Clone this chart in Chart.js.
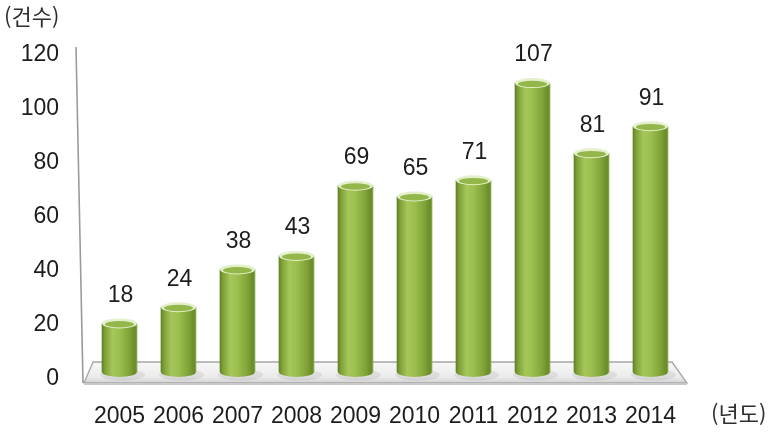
<!DOCTYPE html>
<html lang="ko">
<head>
<meta charset="utf-8">
<title>연도별 건수</title>
<script src="https://cdn.jsdelivr.net/npm/chart.js@4.4.0/dist/chart.umd.min.js"></script>
<style>
    html, body { margin: 0; padding: 0; background: #fff; }
    #wrap { width: 780px; height: 437px; }
</style>
</head>
<body>
<div id="wrap"><canvas id="chartYears" width="780" height="437"></canvas></div>
<script>
// ---------------------------------------------------------------------------
// Données
// ---------------------------------------------------------------------------
const years = ['2005', '2006', '2007', '2008', '2009', '2010', '2011', '2012', '2013', '2014'];
const counts = [18, 24, 38, 43, 69, 65, 71, 107, 81, 91];
const yTicks = [0, 20, 40, 60, 80, 100, 120];
const yUnit = '(건수)';
const xUnit = '(년도)';

const NUM_FONT = '"Liberation Sans", Arial, sans-serif';
const KO_FONT = '"Noto Sans CJK KR", "Noto Sans", sans-serif';
const BAR_W = 35;

// gradient horizontal du cylindre, calé sur la position de la barre
function bodyGradient(ctx, x, w) {
    const g = ctx.createLinearGradient(x - w / 2, 0, x + w / 2, 0);
    g.addColorStop(0, '#5f8224');
    g.addColorStop(0.08, '#7d9f36');
    g.addColorStop(0.3, '#a5c75a');
    g.addColorStop(0.5, '#9cbf50');
    g.addColorStop(0.8, '#7fa136');
    g.addColorStop(0.95, '#688a29');
    g.addColorStop(1, '#8aa94a');
    return g;
}

// ---------------------------------------------------------------------------
// Plugin : sol 3D, ombres, sommets des cylindres, étiquettes
// ---------------------------------------------------------------------------
const cylinderPlugin = {
    id: 'cylinders',
    beforeDatasetsDraw(chart) {
        const { ctx, chartArea } = chart;
        const base = chart.scales.y.getPixelForValue(0);
        const backY = base - 10, frontY = base + 11;

        ctx.save();
        // mur gauche
        ctx.strokeStyle = '#9a9a9a';
        ctx.lineWidth = 1.6;
        ctx.beginPath();
        ctx.moveTo(chartArea.left - 14, chartArea.top - 1);
        ctx.lineTo(chartArea.left - 7, frontY);
        ctx.stroke();

        // plancher
        ctx.beginPath();
        ctx.moveTo(chartArea.left + 3, backY);
        ctx.lineTo(chartArea.right - 8, backY);
        ctx.lineTo(chartArea.right + 7, frontY);
        ctx.lineTo(chartArea.left - 6, frontY);
        ctx.closePath();
        const fg = ctx.createLinearGradient(0, backY, 0, frontY);
        fg.addColorStop(0, '#f7f7f7');
        fg.addColorStop(0.7, '#ececec');
        fg.addColorStop(1, '#d2d2d2');
        ctx.fillStyle = fg;
        ctx.fill();
        ctx.strokeStyle = '#a6a6a6';
        ctx.lineWidth = 1.3;
        ctx.stroke();
        ctx.fillStyle = '#c9c9c9';
        ctx.fillRect(chartArea.left - 6, frontY, chartArea.right - chartArea.left + 13, 2);

        // ombres
        const meta = chart.getDatasetMeta(0);
        meta.data.forEach(bar => {
            ctx.beginPath();
            ctx.ellipse(bar.x + 3, bar.base + 3, bar.width / 2 + 5, 5.5, 0, 0, Math.PI * 2);
            ctx.fillStyle = 'rgba(110,110,110,0.13)';
            ctx.fill();
        });
        ctx.restore();
    },
    afterDatasetsDraw(chart) {
        const { ctx } = chart;
        const meta = chart.getDatasetMeta(0);
        ctx.save();
        meta.data.forEach((bar, i) => {
            const w = bar.width, rx = w / 2, ry = 5;
            // bas arrondi
            ctx.beginPath();
            ctx.ellipse(bar.x, bar.base, rx, ry, 0, 0, Math.PI);
            ctx.fillStyle = bodyGradient(ctx, bar.x, w);
            ctx.fill();
            // sommet : bord clair + face intérieure
            ctx.beginPath();
            ctx.ellipse(bar.x, bar.y, rx, ry, 0, 0, Math.PI * 2);
            ctx.fillStyle = '#e4f0cc';
            ctx.fill();
            ctx.beginPath();
            ctx.ellipse(bar.x, bar.y + 0.8, rx - 3, ry - 1.8, 0, 0, Math.PI * 2);
            ctx.fillStyle = '#94b74b';
            ctx.fill();

            // étiquette de valeur
            ctx.fillStyle = '#1c1c1c';
            ctx.font = '23px ' + NUM_FONT;
            ctx.textAlign = 'center';
            ctx.textBaseline = 'middle';
            ctx.fillText(String(counts[i]), bar.x + 1, bar.y - 28);
        });
        ctx.restore();
    },
    afterDraw(chart) {
        const { ctx } = chart;
        ctx.save();
        ctx.fillStyle = '#2e2e2e';
        ctx.font = '22px ' + KO_FONT;
        ctx.textBaseline = 'middle';
        ctx.textAlign = 'left';
        ctx.fillText(yUnit, 4, 17);
        ctx.fillText(xUnit, 711, 414);
        ctx.restore();
    }
};

// ---------------------------------------------------------------------------
// Graphique
// ---------------------------------------------------------------------------
new Chart(document.getElementById('chartYears'), {
    type: 'bar',
    data: {
        labels: years,
        datasets: [{
            data: counts,
            barThickness: BAR_W,
            borderWidth: 0,
            backgroundColor: c => {
                const chart = c.chart;
                if (!chart.chartArea) return '#8fb347';
                const x = chart.scales.x.getPixelForValue(c.dataIndex);
                return bodyGradient(chart.ctx, x, BAR_W);
            }
        }]
    },
    options: {
        responsive: false,
        animation: false,
        layout: { padding: { top: 48, right: 100, bottom: 7, left: 0 } },
        plugins: { legend: { display: false }, tooltip: { enabled: false } },
        scales: {
            x: {
                grid: { display: false, drawTicks: false },
                border: { display: false },
                ticks: { color: '#1c1c1c', padding: 31, font: { size: 23, family: NUM_FONT } },
                afterFit: s => { s.height = 58; }
            },
            y: {
                min: 0,
                max: 120,
                grid: { display: false, drawTicks: false },
                border: { display: false },
                afterBuildTicks: s => { s.ticks = yTicks.map(v => ({ value: v })); },
                ticks: {
                    color: '#1c1c1c',
                    padding: 31,
                    labelOffset: 7,
                    font: { size: 23, family: NUM_FONT }
                },
                afterFit: s => { s.width = 90; }
            }
        }
    },
    plugins: [cylinderPlugin]
});
</script>
</body>
</html>
